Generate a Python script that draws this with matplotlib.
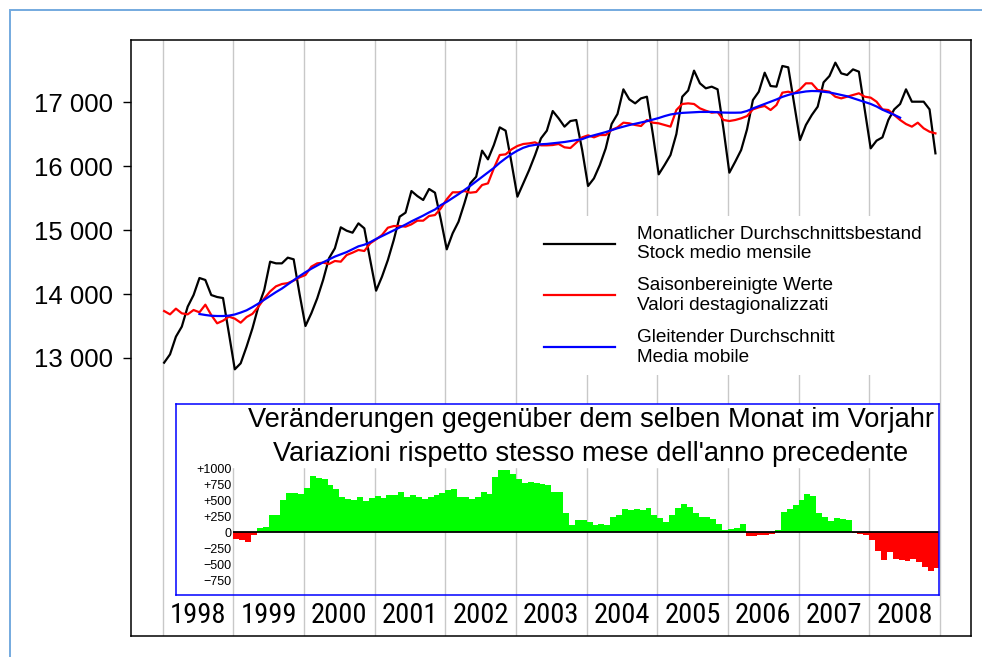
import numpy as np
import matplotlib.pyplot as plt
import matplotlib.transforms as mtransforms
from matplotlib import font_manager
from matplotlib.patches import Rectangle

plt.rcParams['font.family'] = ['Liberation Sans', 'DejaVu Sans']

# ---- data ----
years = list(range(1998, 2009))
year_labels = [str(y) for y in years]

# monthly average stock, Jan 1998 .. Dec 2008
stock = [
    12927, 13057, 13333, 13490, 13802, 13984, 14250, 14219, 13984, 13953, 13937, 13386,
    12823, 12917, 13177, 13464, 13802, 14063, 14505, 14479, 14479, 14568, 14542, 14000,
    13500, 13698, 13932, 14219, 14558, 14714, 15042, 14989, 14958, 15104, 15026, 14531,
    14052, 14271, 14531, 14844, 15208, 15271, 15609, 15531, 15469, 15641, 15583, 15160,
    14698, 14948, 15130, 15417, 15729, 15833, 16240, 16104, 16328, 16604, 16552, 16050,
    15521, 15729, 15938, 16172, 16432, 16552, 16859, 16745, 16615, 16703, 16719, 16250,
    15688, 15807, 16016, 16276, 16656, 16813, 17198, 17042, 16979, 17057, 17083, 16500,
    15870, 16016, 16172, 16500, 17083, 17180, 17490, 17292, 17214, 17240, 17198, 16580,
    15896, 16068, 16250, 16573, 17031, 17161, 17458, 17250, 17240, 17563, 17542, 16975,
    16406, 16641, 16797, 16927, 17307, 17406, 17615, 17448, 17422, 17510, 17474, 16880,
    16276, 16396, 16448, 16719, 16885, 16969, 17198, 17005, 17005, 17005, 16885, 16198,
]

# seasonally adjusted values, Jan 1998 .. Dec 2008
seas_adj = [
    13734, 13682, 13771, 13698, 13682, 13750, 13714, 13833, 13672, 13542, 13583, 13646,
    13615, 13552, 13640, 13690, 13800, 13930, 14040, 14120, 14156, 14170, 14210, 14260,
    14297, 14427, 14479, 14490, 14469, 14516, 14505, 14609, 14646, 14688, 14672, 14792,
    14854, 14922, 15036, 15062, 15062, 15052, 15089, 15146, 15146, 15219, 15234, 15339,
    15480, 15589, 15589, 15609, 15583, 15594, 15703, 15729, 15964, 16172, 16182, 16260,
    16313, 16344, 16354, 16370, 16323, 16323, 16328, 16344, 16292, 16281, 16365, 16448,
    16479, 16448, 16484, 16484, 16563, 16604, 16677, 16667, 16641, 16625, 16719, 16677,
    16667, 16641, 16615, 16875, 16969, 16979, 16969, 16901, 16864, 16833, 16844, 16719,
    16703, 16719, 16745, 16781, 16885, 16917, 16938, 16875, 16953, 17146, 17161, 17136,
    17198, 17292, 17292, 17188, 17177, 17161, 17083, 17057, 17083, 17109, 17136, 17083,
    17068, 17005, 16885, 16875, 16797, 16719, 16656, 16615, 16677, 16589, 16536, 16510,
]

# moving average, Jul 1998 .. Jun 2008
ma_first_month = 6
moving_avg = [
    13687, 13672, 13660, 13656, 13656, 13662,
    13680, 13710, 13745, 13795, 13850, 13910, 13970, 14030, 14085, 14150, 14215, 14280,
    14340, 14395, 14445, 14495, 14540, 14585, 14620, 14655, 14700, 14745, 14770, 14810,
    14860, 14905, 14950, 14995, 15040, 15085, 15135, 15180, 15225, 15275, 15320, 15390,
    15440, 15500, 15560, 15625, 15690, 15760, 15830, 15900, 15970, 16050, 16120, 16185,
    16240, 16285, 16315, 16330, 16340, 16345, 16355, 16365, 16375, 16390, 16405, 16420,
    16455, 16480, 16505, 16530, 16560, 16590, 16615, 16640, 16660, 16680, 16700, 16725,
    16750, 16780, 16805, 16820, 16830, 16835, 16840, 16845, 16845, 16845, 16840, 16835,
    16833, 16833, 16835, 16860, 16900, 16935, 16970, 17005, 17040, 17080, 17110, 17135,
    17150, 17165, 17172, 17170, 17160, 17150, 17130, 17110, 17090, 17060, 17030, 17000,
    16970, 16930, 16880, 16840, 16800, 16755,
]

# change vs. same month of previous year, Jan 1999 .. Dec 2008
yoy_first_year = 1999
yoy = [
    -100, -120, -145, -40, 66, 92, 275, 275, 511, 626, 613, 603,
    695, 888, 862, 836, 747, 679, 553, 527, 511, 553, 495, 537,
    574, 537, 590, 590, 632, 553, 590, 553, 521, 553, 590, 613,
    668, 689, 563, 563, 521, 563, 642, 603, 878, 983, 983, 920,
    836, 784, 799, 773, 763, 747, 642, 642, 302, 118, 197, 197,
    170, 118, 134, 118, 239, 275, 364, 354, 364, 354, 380, 275,
    233, 160, 275, 390, 443, 406, 311, 249, 249, 217, 134, 39,
    50, 76, 134, -55, -55, -39, -34, -29, 39, 328, 364, 432,
    511, 600, 574, 301, 249, 175, 228, 212, 202, -13, -24, -39,
    -118, -291, -432, -301, -422, -432, -442, -422, -458, -537, -600, -563,
]

y_ticks = [13000, 14000, 15000, 16000, 17000]
y_ticklabels = ['13 000', '14 000', '15 000', '16 000', '17 000']
inset_ticks = [1000, 750, 500, 250, 0, -250, -500, -750]
inset_ticklabels = ['+1000', '+750', '+500', '+250', '0', '\u2212250', '\u2212500', '\u2212750']

legend_labels = [
    'Monatlicher Durchschnittsbestand\nStock medio mensile',
    'Saisonbereinigte Werte\nValori destagionalizzati',
    'Gleitender Durchschnitt\nMedia mobile',
]
inset_title = [
    'Veränderungen gegenüber dem selben Monat im Vorjahr',
    "Variazioni rispetto stesso mese dell'anno precedente",
]

# narrow face for the year labels, if one is installed
available = {f.name for f in font_manager.fontManager.ttflist}
narrow_candidates = ['Liberation Sans Narrow', 'Roboto Condensed', 'Noto Sans Condensed',
                     'Open Sans Condensed', 'DejaVu Sans Condensed']
year_font = next((n for n in narrow_candidates if n in available), 'DejaVu Sans')

# ---- layout helpers (pixel based, figure is 982 x 657) ----
W, H = 982, 657


def px_rect(left, top, right, bottom):
    return [left / W, 1 - bottom / H, (right - left) / W, (bottom - top) / H]


fig = plt.figure(figsize=(W / 100, H / 100), dpi=100)
fig.patches.append(Rectangle((10 / W, -0.05), 1.1, 1 - 10 / H + 0.05,
                             transform=fig.transFigure, fill=False,
                             edgecolor='#74aadf', lw=1.4))

ax = fig.add_axes(px_rect(131, 40, 971, 636))
xmin, xmax = 1997.551, 2009.44
ax.set_xlim(xmin, xmax)
ax.set_ylim(8656, 17969)

for y in years + [2009]:
    ax.axvline(y, color='#c8c8c8', lw=1.0, zorder=0)

t = np.array([1998 + i / 12 + 0.02 for i in range(len(stock))])
t_ma = t[ma_first_month:ma_first_month + len(moving_avg)]

l1, = ax.plot(t, stock, color='black', lw=1.6)
l2, = ax.plot(t, seas_adj, color='#ff0000', lw=1.6)
l3, = ax.plot(t_ma, moving_avg, color='#0000ff', lw=1.6)

ax.set_xticks([])
ax.set_yticks(y_ticks)
ax.set_yticklabels(y_ticklabels, fontsize=18.5)
ax.tick_params(axis='y', length=5.8, width=1.0, pad=7)
for s in ax.spines.values():
    s.set_linewidth(1.1)

trans = mtransforms.blended_transform_factory(ax.transData, ax.transAxes)
year_texts = []
for y, lab in zip(years, year_labels):
    year_texts.append(ax.text(y + 0.5, 0.035, lab, transform=trans, ha='center',
                              va='center', fontsize=20, family=[year_font, 'DejaVu Sans'],
                              stretch='condensed'))

leg = ax.legend([l1, l2, l3], legend_labels, loc='upper left',
                bbox_to_anchor=(534 / W, 1 - 216 / H), bbox_transform=fig.transFigure,
                fontsize=13.7, handlelength=3.75, handletextpad=1.15,
                labelspacing=0.8, borderpad=0.5, borderaxespad=0,
                frameon=True, fancybox=False, framealpha=1)
leg.get_frame().set_edgecolor('none')
leg.get_frame().set_facecolor('white')

# ---- inset: year-over-year change ----
ins = fig.add_axes(px_rect(176, 404, 939, 595))
ppy = 840 / (xmax - xmin)
ins.set_xlim(xmin + 45 / ppy, xmin + 808 / ppy)
ins.set_ylim(-983, 2020)
ins.patch.set_alpha(0)
for s in ins.spines.values():
    s.set_color('#0000ff')
    s.set_linewidth(1.1)
ins.add_patch(Rectangle((0, 0.67), 1, 0.33, transform=ins.transAxes,
                        color='white', zorder=0))

xb = [yoy_first_year + k / 12 for k in range(len(yoy))]
cols = ['#00ff00' if v >= 0 else '#ff0000' for v in yoy]
ins.bar(xb, yoy, width=1 / 12, align='edge', color=cols, linewidth=0, zorder=1)
ins.hlines(0, yoy_first_year, ins.get_xlim()[1], color='black', lw=1.3, zorder=2)

ins.set_xticks([])
ins.set_yticks(inset_ticks)
ins.set_yticklabels(inset_ticklabels, fontsize=9)
ins.tick_params(axis='y', length=0, pad=-40.3)

title_x = (591 - 176) / (939 - 176)
for line, py in zip(inset_title, [420, 454]):
    ins.text(title_x, (595 - py) / (595 - 404), line, transform=ins.transAxes,
             ha='center', va='center', fontsize=19.6, zorder=3)

# fit the year labels to the width they take in the reference (about 56 px)
fig.canvas.draw()
renderer = fig.canvas.get_renderer()
w = year_texts[0].get_window_extent(renderer).width
for txt in year_texts:
    txt.set_fontsize(txt.get_fontsize() * 56 / w)

fig.savefig('out.png', dpi=100)
